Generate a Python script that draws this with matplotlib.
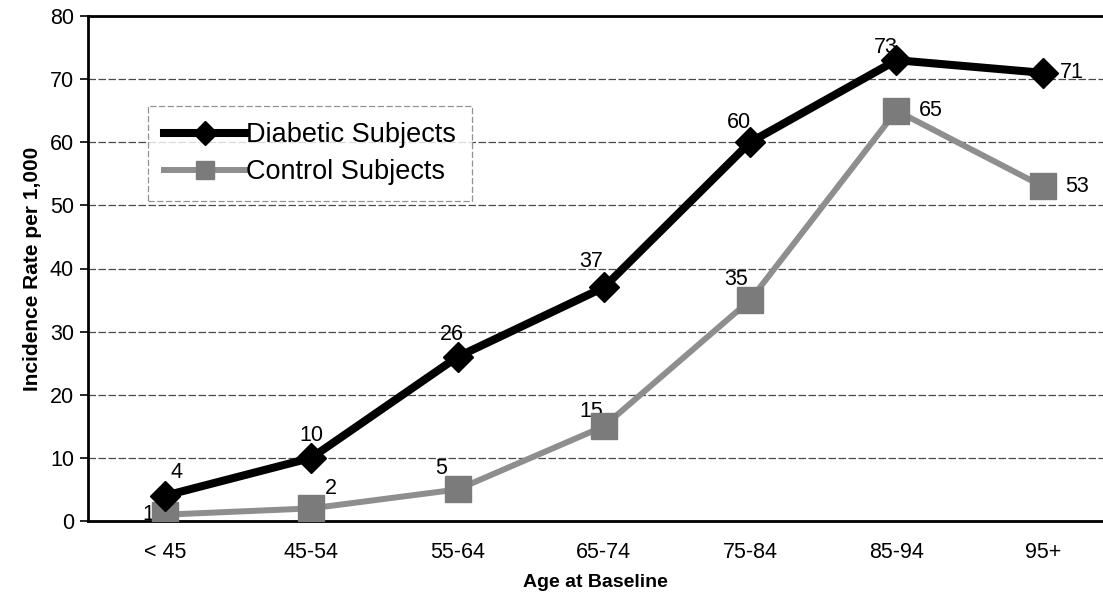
import matplotlib
matplotlib.use("Agg")
import matplotlib.pyplot as plt
from matplotlib.lines import Line2D

plt.rcParams['font.family'] = ['Liberation Sans', 'DejaVu Sans']

# Age groups at baseline and incidence rates per 1,000
age_groups = ["< 45", "45-54", "55-64", "65-74", "75-84", "85-94", "95+"]
diabetic = [4, 10, 26, 37, 60, 73, 71]
control = [1, 2, 5, 15, 35, 65, 53]
y_ticks = [0, 10, 20, 30, 40, 50, 60, 70, 80]

# label offsets in points (dx, dy) for each data label
diab_offsets = [(8, 17), (0, 16), (-4, 16), (-9, 19), (-8, 14), (-8, 9), (21, 0)]
ctrl_offsets = [(-12, 0), (14, 14), (-12, 15), (-9, 11), (-10, 15), (25, 0), (25, 0)]

GRAY_LINE = "#8e8e8e"
GRAY_MARK = "#7b7b7b"
FS = 15.5

fig = plt.figure(figsize=(11.03, 5.97), dpi=100)
W, H = 1103, 597
ax = fig.add_axes([88 / W, 76 / H, (W - 88) / W, 505 / H])

x = list(range(len(age_groups)))

ax.plot(x, control, color=GRAY_LINE, lw=4.3, marker='s', ms=19,
        mfc=GRAY_MARK, mec=GRAY_MARK, zorder=3, solid_joinstyle='miter')
ax.plot(x, diabetic, color='black', lw=5.8, marker='D', ms=15,
        mfc='black', mec='black', zorder=4, solid_joinstyle='miter')

for xi, v, (dx, dy) in zip(x, diabetic, diab_offsets):
    ax.annotate(str(v), (xi, v), xytext=(dx, dy), textcoords='offset points',
                ha='center', va='center', fontsize=FS, zorder=2)
for xi, v, (dx, dy) in zip(x, control, ctrl_offsets):
    ax.annotate(str(v), (xi, v), xytext=(dx, dy), textcoords='offset points',
                ha='center', va='center', fontsize=FS, zorder=2)

ax.set_xlim(-0.526, (W - 165) / 146.3)
ax.set_ylim(0, 80)
ax.set_yticks(y_ticks)
ax.set_xticks(x)
ax.set_xticklabels(age_groups)
ax.tick_params(axis='x', length=0, pad=15, labelsize=FS)
ax.tick_params(axis='y', length=6, width=1.2, pad=4, labelsize=FS)

ax.yaxis.grid(True, color='#4a4a4a', linestyle=(0, (6, 2)), lw=0.9)
ax.set_axisbelow(True)

for side in ['left', 'bottom', 'top']:
    ax.spines[side].set_linewidth(2)
    ax.spines[side].set_color('black')
ax.spines['right'].set_visible(False)

ax.set_ylabel("Incidence Rate per 1,000", fontsize=15, fontweight='bold', labelpad=6)
ax.set_xlabel("Age at Baseline", fontsize=14, fontweight='bold', labelpad=8)

handles = [
    Line2D([0], [0], color='black', lw=5.8, marker='D', ms=12, mfc='black', mec='black'),
    Line2D([0], [0], color=GRAY_LINE, lw=4.3, marker='s', ms=13, mfc=GRAY_MARK, mec=GRAY_MARK),
]
leg = ax.legend(handles, ["Diabetic Subjects", "Control Subjects"],
                loc='upper left', bbox_to_anchor=(148 / W, 1 - 106 / H),
                bbox_transform=fig.transFigure, fontsize=19.5, frameon=True,
                fancybox=False, handlelength=3.0, handletextpad=0.0,
                borderpad=0.6, labelspacing=0.4, borderaxespad=0)
frame = leg.get_frame()
frame.set_edgecolor('#777777')
frame.set_linestyle((0, (5, 2)))
frame.set_linewidth(0.9)
frame.set_facecolor('white')

fig.savefig("out.png", dpi=100, facecolor='white')
